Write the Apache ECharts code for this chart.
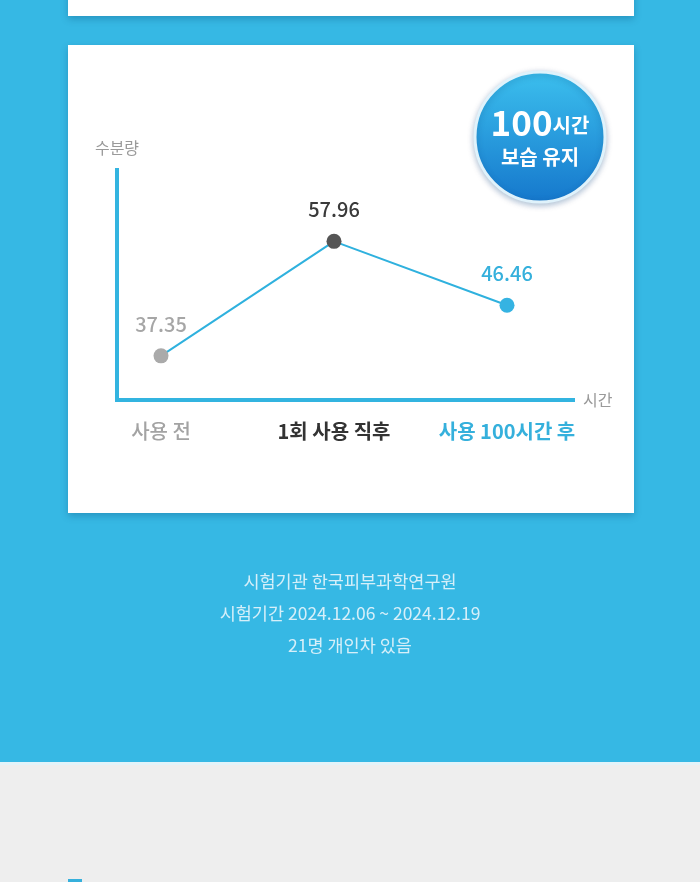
<!DOCTYPE html>
<html><head><meta charset="utf-8">
<script src="https://cdn.jsdelivr.net/npm/echarts@6/dist/echarts.min.js"></script>
<style>
html,body{margin:0;padding:0;}
body{width:700px;height:882px;position:relative;overflow:hidden;background:#eeeeee;font-family:"Noto Sans CJK KR",sans-serif;}
#blue{position:absolute;left:0;top:0;width:700px;height:762px;background:#36b8e4;}
#edge{position:absolute;left:0;top:762px;width:700px;height:3px;background:#e3f3f9;}
.card{position:absolute;left:68px;width:566px;background:#fff;box-shadow:0 3px 7px rgba(0,60,100,0.28);}
#card1{top:-20px;height:36px;}
#card2{top:45px;height:468px;}
#mark{position:absolute;left:68px;top:879px;width:14px;height:3px;background:#36b0dc;}
#chart{position:absolute;left:0;top:0;width:700px;height:882px;}
</style></head>
<body>
<div id="blue"></div><div id="edge"></div>
<div class="card" id="card1"></div>
<div class="card" id="card2"></div>
<div id="mark"></div>
<div id="chart"></div>
<script>
const categories = ['사용 전', '1회 사용 직후', '사용 100시간 후'];
const moisture = [37.35, 57.96, 46.46];
const pointColors = ['#aaaaaa', '#555555', '#35b3e2'];
const labelColors = ['#a6a6a6', '#3a3a3a', '#35b0dc'];
const yAxisName = '수분량';
const xAxisName = '시간';
const badgeLines = ['100', '시간', '보습 유지'];
const footerLines = ['시험기관 한국피부과학연구원', '시험기간 2024.12.06 ~ 2024.12.19', '21명 개인차 있음'];

const chart = echarts.init(document.getElementById('chart'), null, {renderer:'canvas'});
const FONT = '"Noto Sans CJK KR", sans-serif';
const axisBlue = '#33b4e0';
const Y_MIN = 29.4, Y_MAX = 70.8;

const option = {
  backgroundColor: 'transparent',
  animation: false,
  grid: [
    {left: 161, top: 170, width: 346, height: 230, containLabel: false},
    {left: 117, top: 170, width: 456, height: 230, containLabel: false}
  ],
  xAxis: [{
    gridIndex: 0,
    type: 'category',
    data: categories,
    boundaryGap: false,
    axisLine: {show: false},
    axisTick: {show: false},
    splitLine: {show: false},
    axisLabel: {
      interval: 0,
      margin: 21,
      formatter: (v) => '{c' + categories.indexOf(v) + '|' + v + '}',
      rich: {
        c0: {color: '#a3a3a3', fontSize: 20, fontWeight: 500, fontFamily: FONT},
        c1: {color: '#333333', fontSize: 20, fontWeight: 'bold', fontFamily: FONT},
        c2: {color: '#35b0dc', fontSize: 20, fontWeight: 'bold', fontFamily: FONT}
      }
    }
  }, {
    gridIndex: 1,
    type: 'value', min: 0, max: 1,
    name: xAxisName,
    nameLocation: 'end',
    nameGap: 10,
    nameTextStyle: {color: '#9a9a9a', fontSize: 16, fontFamily: FONT, padding: [0, 0, 12, 0]},
    axisLine: {show: true, lineStyle: {color: axisBlue, width: 4, cap: 'square'}},
    axisTick: {show: false},
    axisLabel: {show: false},
    splitLine: {show: false}
  }],
  yAxis: [{
    gridIndex: 0,
    type: 'value',
    min: Y_MIN, max: Y_MAX,
    axisLine: {show: false},
    axisTick: {show: false},
    axisLabel: {show: false},
    splitLine: {show: false}
  }, {
    gridIndex: 1,
    type: 'value',
    min: Y_MIN, max: Y_MAX,
    name: yAxisName,
    nameLocation: 'end',
    nameGap: 14,
    nameTextStyle: {color: '#9a9a9a', fontSize: 16, fontFamily: FONT, align: 'center'},
    axisLine: {show: true, lineStyle: {color: axisBlue, width: 4, cap: 'square'}},
    axisTick: {show: false},
    axisLabel: {show: false},
    splitLine: {show: false}
  }],
  series: [{
    type: 'line',
    xAxisIndex: 0, yAxisIndex: 0,
    data: moisture.map((v, i) => ({
      value: v,
      itemStyle: {color: pointColors[i]},
      label: {color: labelColors[i]}
    })),
    symbol: 'circle',
    symbolSize: 15,
    lineStyle: {color: '#2fb1de', width: 2},
    itemStyle: {borderWidth: 0},
    label: {
      show: true, position: 'top', distance: 14,
      fontSize: 20, fontFamily: FONT, fontWeight: 500,
      formatter: (p) => p.value.toFixed(2)
    },
    z: 5
  }],
  graphic: [
    {
      type: 'circle',
      shape: {cx: 540, cy: 137, r: 65},
      style: {
        fill: new echarts.graphic.LinearGradient(0, 0, 0, 1, [
          {offset: 0, color: '#3cc0ee'},
          {offset: 1, color: '#1577cc'}
        ]),
        stroke: '#dff2fb', lineWidth: 3,
        shadowBlur: 6, shadowColor: 'rgba(0,60,120,0.3)', shadowOffsetY: 2
      },
      z: 10
    },
    {
      type: 'text',
      x: 540, y: 123,
      style: {
        text: '{n|' + badgeLines[0] + '}{u|' + badgeLines[1] + '}',
        align: 'center', verticalAlign: 'middle',
        rich: {
          n: {fill: '#fff', fontSize: 35, fontWeight: 'bold', fontFamily: FONT},
          u: {fill: '#fff', fontSize: 20, fontWeight: 'bold', fontFamily: FONT, padding: [5, 0, 0, 0]}
        }
      },
      z: 11
    },
    {
      type: 'text',
      x: 540, y: 157,
      style: {
        text: badgeLines[2], fill: '#fff', fontSize: 20, fontWeight: 'bold', fontFamily: FONT,
        align: 'center', verticalAlign: 'middle'
      },
      z: 11
    },
    ...footerLines.map((t, i) => ({
      type: 'text',
      x: 350, y: 581 + i * 32,
      style: {
        text: t, fill: '#d6eff9', fontSize: 17.5, fontFamily: FONT,
        align: 'center', verticalAlign: 'middle'
      },
      z: 11
    }))
  ]
};
chart.setOption(option);
</script>
</body></html>
